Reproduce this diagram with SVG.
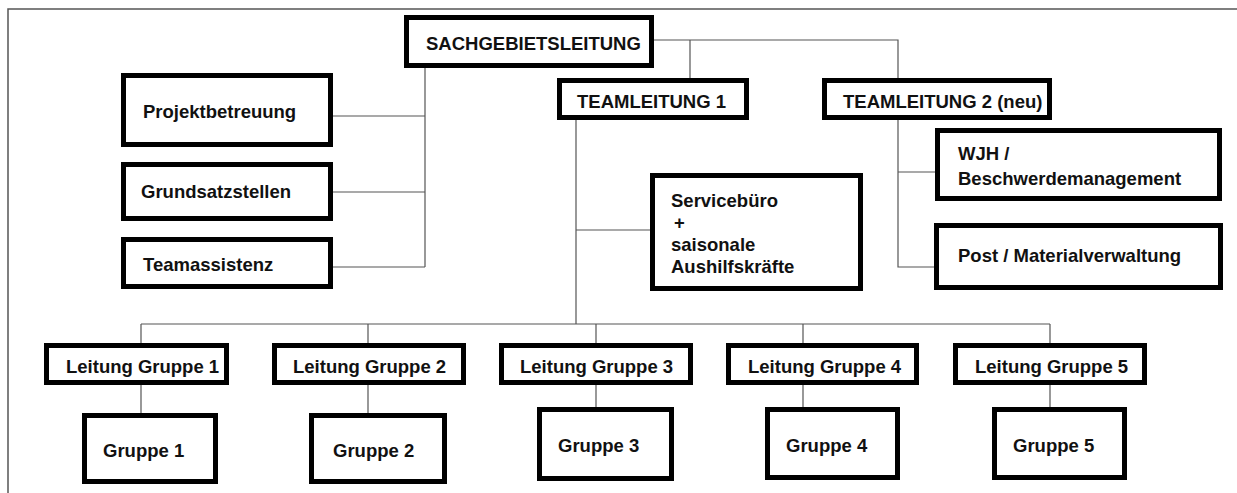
<svg xmlns="http://www.w3.org/2000/svg" width="1237" height="493" viewBox="0 0 1237 493">
<style>
.box{fill:#fff;stroke:#000;stroke-width:5}
.t{font-family:"Liberation Sans",Arial,sans-serif;font-weight:bold;font-size:18.5px;fill:#111}
.c{fill:none;stroke:#555;stroke-width:1.2}
.f{fill:none;stroke:#555;stroke-width:1.5}
</style>
<rect width="1237" height="493" fill="#fff"/>
<path class="f" d="M8,493 V9 H1237"/>
<g id="connectors">
<path class="c" d="M654,40 H898 V78 M690,40 V78"/>
<path class="c" d="M425,68 V267 M333,116 H425 M333,192 H425 M333,267 H425"/>
<path class="c" d="M576,120 V324 M576,230 H650"/>
<path class="c" d="M898,120 V267 H934 M898,172 H935"/>
<path class="c" d="M141,324 H1050 M141,324 V343 M368,324 V343 M596,324 V343 M803,324 V343 M1050,324 V343"/>
<path class="c" d="M141,385 V413 M368,385 V413 M596,385 V407 M803,385 V407 M1050,385 V407"/>
</g>
<g id="sachgebietsleitung"><rect class="box" x="406.5" y="17.5" width="245" height="48"/><text class="t" x="426" y="50">SACHGEBIETSLEITUNG</text></g>
<g id="projektbetreuung"><rect class="box" x="123.5" y="75.5" width="207" height="69"/><text class="t" x="143" y="118">Projektbetreuung</text></g>
<g id="grundsatzstellen"><rect class="box" x="123.5" y="164.5" width="207" height="54"/><text class="t" x="141" y="198">Grundsatzstellen</text></g>
<g id="teamassistenz"><rect class="box" x="123.5" y="239.5" width="207" height="47"/><text class="t" x="143" y="271">Teamassistenz</text></g>
<g id="teamleitung1"><rect class="box" x="559.5" y="80.5" width="187" height="37"/><text class="t" x="577" y="108">TEAMLEITUNG 1</text></g>
<g id="teamleitung2"><rect class="box" x="824.5" y="80.5" width="225" height="37"/><text class="t" x="843" y="108">TEAMLEITUNG 2 (neu)</text></g>
<g id="servicebuero"><rect class="box" x="652.5" y="175.5" width="208" height="113"/><text class="t" x="671" y="207">Servicebüro</text><text class="t" x="674" y="229">+</text><text class="t" x="671" y="251">saisonale</text><text class="t" x="671" y="273">Aushilfskräfte</text></g>
<g id="wjh"><rect class="box" x="937.5" y="130.5" width="282" height="68"/><text class="t" x="958" y="160">WJH /</text><text class="t" x="958" y="185">Beschwerdemanagement</text></g>
<g id="post"><rect class="box" x="936.5" y="225.5" width="284" height="62"/><text class="t" x="958" y="262">Post / Materialverwaltung</text></g>
<g id="leitung1"><rect class="box" x="46.5" y="345.5" width="180" height="37"/><text class="t" x="66" y="373">Leitung Gruppe 1</text></g>
<g id="leitung2"><rect class="box" x="274.5" y="345.5" width="189" height="37"/><text class="t" x="293" y="373">Leitung Gruppe 2</text></g>
<g id="leitung3"><rect class="box" x="501.5" y="345.5" width="189" height="37"/><text class="t" x="520" y="373">Leitung Gruppe 3</text></g>
<g id="leitung4"><rect class="box" x="728.5" y="345.5" width="188" height="37"/><text class="t" x="748" y="373">Leitung Gruppe 4</text></g>
<g id="leitung5"><rect class="box" x="955.5" y="345.5" width="189" height="37"/><text class="t" x="975" y="373">Leitung Gruppe 5</text></g>
<g id="gruppe1"><rect class="box" x="84.5" y="415.5" width="131" height="66"/><text class="t" x="103" y="457">Gruppe 1</text></g>
<g id="gruppe2"><rect class="box" x="311.5" y="415.5" width="133" height="66"/><text class="t" x="333" y="457">Gruppe 2</text></g>
<g id="gruppe3"><rect class="box" x="539.5" y="409.5" width="132" height="69"/><text class="t" x="558" y="452">Gruppe 3</text></g>
<g id="gruppe4"><rect class="box" x="767.5" y="409.5" width="130" height="68"/><text class="t" x="786" y="452">Gruppe 4</text></g>
<g id="gruppe5"><rect class="box" x="994.5" y="409.5" width="130" height="68"/><text class="t" x="1013" y="452">Gruppe 5</text></g>
</svg>
